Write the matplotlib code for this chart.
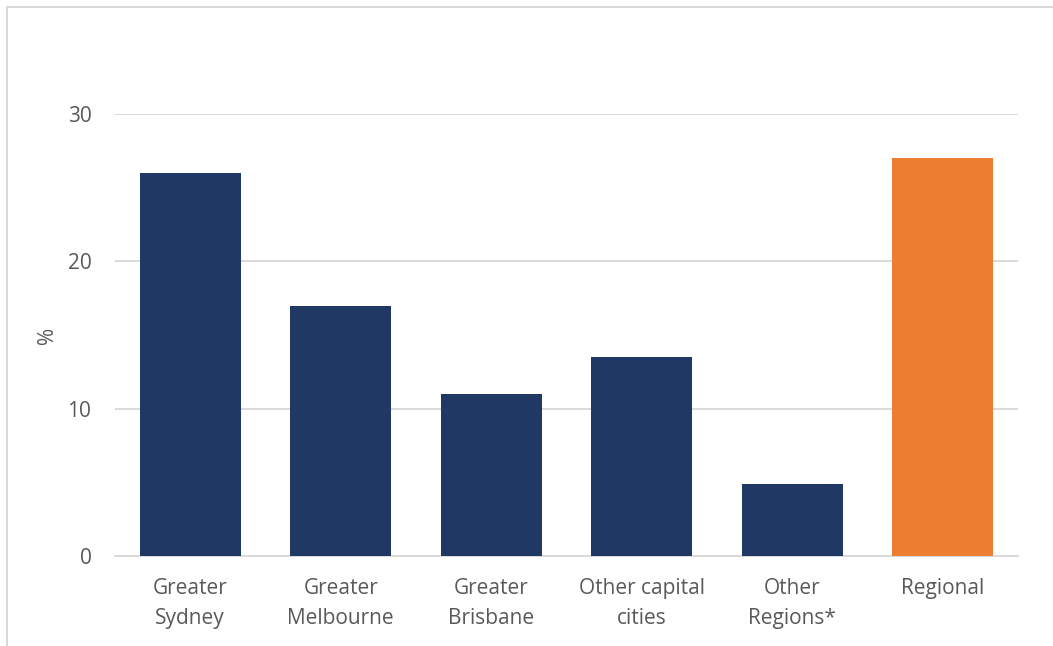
import matplotlib.pyplot as plt
from matplotlib.lines import Line2D

regiones = ["Greater\nSydney", "Greater\nMelbourne", "Greater\nBrisbane",
            "Other capital\ncities", "Other\nRegions*", "Regional"]
valores = [26.0, 17.0, 11.0, 13.5, 4.9, 27.0]
colores = ["#203864"] * 5 + ["#ED7D31"]

GRIS = "#595959"
plt.rcParams["font.family"] = ["Open Sans", "DejaVu Sans"]

fig = plt.figure(figsize=(10.53, 6.46), dpi=100)
ax = fig.add_axes([115 / 1053, 90 / 646, 903 / 1053, 442 / 646])

x = range(len(regiones))
ax.bar(x, valores, width=0.67, color=colores, zorder=3)
ax.set_xlim(-0.5, len(regiones) - 0.5)
ax.set_ylim(0, 30)
ax.set_yticks([0, 10, 20, 30])
ax.set_xticks(list(x))
ax.set_xticklabels(regiones, fontsize=15, color=GRIS, linespacing=1.55)
ax.tick_params(axis="y", labelsize=15, labelcolor=GRIS, length=0, pad=17)
ax.tick_params(axis="x", length=0, pad=16)
ax.grid(axis="y", color="#D9D9D9", linewidth=1.4, zorder=0)
for s in ["top", "right", "left"]:
    ax.spines[s].set_visible(False)
ax.spines["bottom"].set_color("#D9D9D9")
ax.spines["bottom"].set_linewidth(1.4)
ax.set_ylabel("%", fontsize=15, color=GRIS, labelpad=7)

# marco exterior del grafico
fig.add_artist(Line2D([7 / 1053, 7 / 1053], [0, 1 - 7 / 646], color="#D9D9D9", lw=1.5))
fig.add_artist(Line2D([7 / 1053, 1], [1 - 7 / 646, 1 - 7 / 646], color="#D9D9D9", lw=1.5))

plt.savefig("out.png", dpi=100)
